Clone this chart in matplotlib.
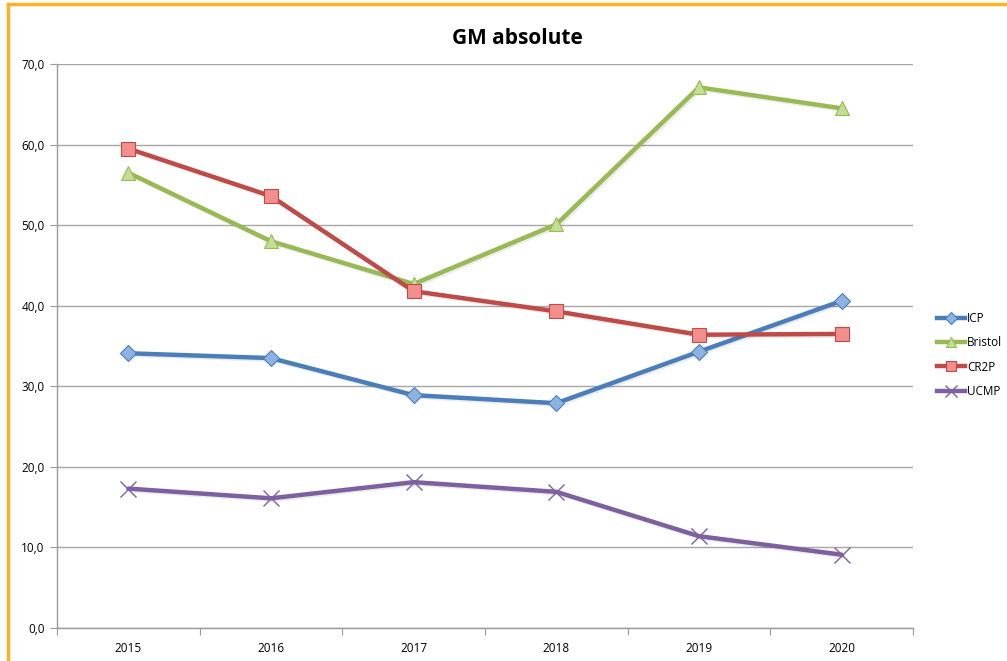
import matplotlib
matplotlib.use("Agg")
import matplotlib.pyplot as plt
import matplotlib.patheffects as pe
from matplotlib.lines import Line2D

years = ["2015", "2016", "2017", "2018", "2019", "2020"]
icp = [34.1, 33.5, 28.9, 27.9, 34.3, 40.6]
bristol = [56.5, 48.0, 42.7, 50.1, 67.1, 64.5]
cr2p = [59.5, 53.6, 41.8, 39.3, 36.4, 36.5]
ucmp = [17.3, 16.1, 18.1, 16.9, 11.4, 9.1]

series = [
    ("ICP", icp, "#4A7EBB", "D", "#8DB3E2", 8),
    ("Bristol", bristol, "#98B954", "^", "#C3DF95", 10),
    ("CR2P", cr2p, "#BE4B48", "s", "#F28E8B", 10),
    ("UCMP", ucmp, "#7D60A0", "x", "#7D60A0", 11),
]

plt.rcParams["font.family"] = ["Open Sans", "DejaVu Sans"]

fig = plt.figure(figsize=(10.07, 6.61), dpi=100)
ax = fig.add_axes([57 / 1007, 33 / 661, 856 / 1007, 564 / 661])

x = list(range(len(years)))
shadow = [pe.SimpleLineShadow(offset=(1.2, -1.2), shadow_color="#000000", alpha=0.08), pe.Normal()]
for name, vals, color, marker, face, ms in series:
    ax.plot(x, vals, color=color, lw=3.2, zorder=3, solid_capstyle="round",
            path_effects=shadow)
    if marker == "x":
        ax.plot(x, vals, ls="none", marker=marker, ms=ms, mew=1.0,
                color=color, zorder=4)
    else:
        ax.plot(x, vals, ls="none", marker=marker, ms=ms, mfc=face,
                mec=color, mew=0.8, zorder=4)

ax.set_xlim(-0.5, len(years) - 0.5)
ax.set_ylim(0, 70)
ax.set_yticks(range(0, 71, 10))
ax.set_yticklabels([f"{v},0" for v in range(0, 71, 10)], fontsize=8.5)
ax.set_xticks([i + 0.5 for i in range(-1, len(years))], minor=False)
ax.set_xticklabels([])
ax.set_xticks(x, minor=True)
ax.set_xticklabels(years, minor=True, fontsize=8.5)
ax.tick_params(axis="x", which="minor", length=0, pad=10)
ax.tick_params(axis="x", which="major", length=5, color="#9a9a9a", direction="out")
ax.tick_params(axis="y", length=5, color="#9a9a9a", pad=4)

ax.grid(axis="y", color="#a6a6a6", lw=1.0, zorder=0)
for side in ("top", "right"):
    ax.spines[side].set_visible(False)
for side in ("left", "bottom"):
    ax.spines[side].set_color("#9a9a9a")
    ax.spines[side].set_linewidth(1.0)

fig.text(517 / 1007, 1 - 38 / 661, "GM absolute", ha="center", va="center",
         fontsize=15, fontweight="bold")

handles = []
for name, vals, color, marker, face, ms in series:
    if marker == "x":
        h = Line2D([], [], color=color, lw=3.2, marker=marker, ms=ms * 0.8, mew=1.0)
    else:
        h = Line2D([], [], color=color, lw=3.2, marker=marker, ms=ms * 0.75,
                   mfc=face, mec=color, mew=0.8)
    handles.append(h)
fig.legend(handles, [s[0] for s in series], loc="center left",
           bbox_to_anchor=(926 / 1007, 1 - 355 / 661), frameon=False,
           fontsize=8.5, handlelength=2.4, handletextpad=0.2, labelspacing=0.95)

# orange chart-area frame
fig.add_artist(Line2D([8 / 1007, 1.0], [1 - 4 / 661, 1 - 4 / 661],
                      transform=fig.transFigure, color="#F9B326", lw=2.5))
fig.add_artist(Line2D([8 / 1007, 8 / 1007], [0, 1 - 4 / 661],
                      transform=fig.transFigure, color="#F9B326", lw=2.5))

fig.savefig("out.png", dpi=100)
